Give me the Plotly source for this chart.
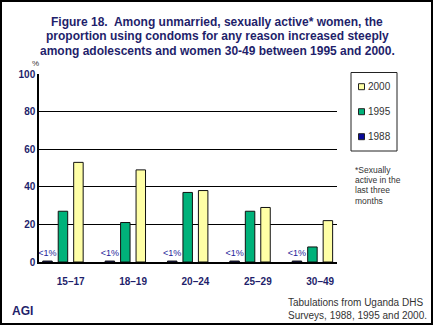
import plotly.graph_objects as go

# Age groups and survey values (percent using condoms)
age_groups = ["15\u201317", "18\u201319", "20\u201324", "25\u201329", "30\u201349"]
pct_1988 = [0.5, 0.5, 0.5, 0.5, 0.5]
pct_1995 = [27, 21, 37, 27, 8]
pct_2000 = [53, 49, 38, 29, 22]
labels_1988 = ["<1%", "<1%", "<1%", "<1%", "<1%"]
y_ticks = [0, 20, 40, 60, 80, 100]

W, H = 434, 326
NAVY = "#1f1f6b"
GREY = "#333333"
FONT = "Liberation Sans, Arial, sans-serif"

C1988 = "#0a0a9a"
C1995 = "#00b27a"
C2000 = "#ffffa6"

def px(x):
    return x / W

def py(y):
    return 1 - y / H

bar_w = 0.152
fig = go.Figure()
fig.add_trace(go.Bar(
    x=age_groups, y=pct_1988, name="1988", width=bar_w, offset=-0.448,
    marker=dict(color=C1988, line=dict(color="#111111", width=1)),
    text=labels_1988, textposition="outside", cliponaxis=False,
    constraintext="none",
    textfont=dict(family=FONT, size=9, color="#24249a"),
))
fig.add_trace(go.Bar(
    x=age_groups, y=pct_1995, name="1995", width=bar_w, offset=-0.2,
    marker=dict(color=C1995, line=dict(color="#111111", width=1)),
))
fig.add_trace(go.Bar(
    x=age_groups, y=pct_2000, name="2000", width=bar_w, offset=0.048,
    marker=dict(color=C2000, line=dict(color="#111111", width=1)),
))

shapes = []
annotations = []

# Outer frame
shapes.append(dict(type="rect", xref="paper", yref="paper",
                   x0=px(1), x1=px(432), y0=py(324), y1=py(1),
                   line=dict(color="black", width=2), fillcolor="rgba(0,0,0,0)"))

# Legend box
shapes.append(dict(type="rect", xref="paper", yref="paper",
                   x0=px(351), x1=px(397), y0=py(151), y1=py(72.5),
                   line=dict(color="#222222", width=1), fillcolor="white"))
legend_items = [("2000", C2000, 86.7), ("1995", C1995, 111.7), ("1988", C1988, 136.7)]
for name, col, yc in legend_items:
    shapes.append(dict(type="rect", xref="paper", yref="paper",
                       x0=px(358.5), x1=px(364.5), y0=py(yc + 3), y1=py(yc - 3),
                       line=dict(color="#222222", width=1), fillcolor=col))
    annotations.append(dict(x=px(366), y=py(yc), xref="paper", yref="paper",
                            text=name, showarrow=False, xanchor="left", yanchor="middle",
                            font=dict(family=FONT, size=10, color=GREY)))

# Title, one line at a time
title_lines = [
    "Figure 18.  Among unmarried, sexually active* women, the",
    "proportion using condoms for any reason increased steeply",
    "among adolescents and women 30-49 between 1995 and 2000.",
]
for i, line in enumerate(title_lines):
    annotations.append(dict(
        x=0.5, y=py(22 + i * 14.4), xref="paper", yref="paper",
        xanchor="center", yanchor="middle", text="<b>" + line + "</b>",
        showarrow=False, font=dict(family=FONT, size=12, color=NAVY)))

# Axis unit
annotations.append(dict(x=px(35), y=py(64), xref="paper", yref="paper",
                        text="%", showarrow=False, xanchor="center", yanchor="middle",
                        font=dict(family=FONT, size=8, color=GREY)))

# Footnote, one line at a time for tight spacing
footnote_lines = ["*Sexually", "active in the", "last three", "months"]
for i, line in enumerate(footnote_lines):
    annotations.append(dict(x=px(353), y=py(170 + i * 10.2), xref="paper", yref="paper",
                            text=line, showarrow=False, xanchor="left", yanchor="middle",
                            font=dict(family=FONT, size=8.5, color=GREY)))

# Source
annotations.append(dict(x=px(286), y=py(295), xref="paper", yref="paper",
                        text="Tabulations from Uganda DHS<br>Surveys, 1988, 1995 and 2000.",
                        showarrow=False, xanchor="left", yanchor="top", align="left",
                        font=dict(family=FONT, size=10, color=GREY)))

annotations.append(dict(x=px(10), y=py(311), xref="paper", yref="paper",
                        text="<b>AGI</b>", showarrow=False, xanchor="left", yanchor="middle",
                        font=dict(family=FONT, size=12, color=NAVY)))

fig.update_layout(
    width=W, height=H,
    margin=dict(l=0, r=0, t=0, b=0),
    paper_bgcolor="white", plot_bgcolor="white",
    barmode="overlay",
    showlegend=False,
    xaxis=dict(domain=[px(39), px(337)], range=[-0.508, 4.27],
               showline=True, linecolor="black", linewidth=1.5,
               showgrid=False, ticks="", automargin=False, fixedrange=True,
               ticklabelstandoff=9,
               tickfont=dict(family=FONT, size=10, color=NAVY, weight="bold")),
    yaxis=dict(domain=[py(262), py(74)], range=[0, 100],
               tickvals=y_ticks, showgrid=True, gridcolor="black", gridwidth=1,
               showline=True, linecolor="black", linewidth=1.5, zeroline=False,
               ticks="", automargin=False, fixedrange=True,
               tickfont=dict(family=FONT, size=10, color=NAVY, weight="bold")),
    shapes=shapes, annotations=annotations,
)

fig.write_html("out.html")
